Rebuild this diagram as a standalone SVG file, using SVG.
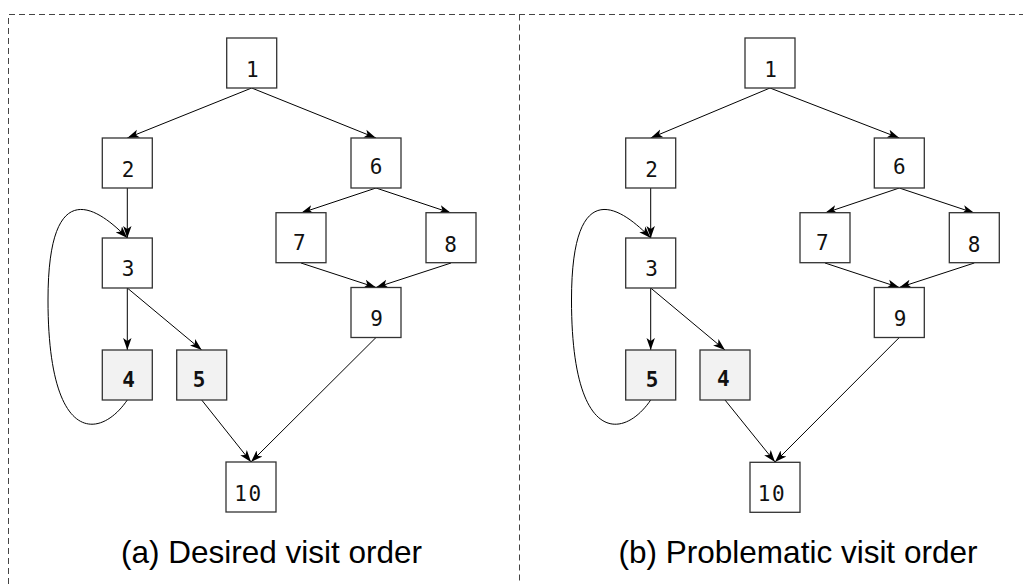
<svg xmlns="http://www.w3.org/2000/svg" width="1023" height="584" viewBox="0 0 1023 584">
  <style>
    .frame { fill: none; stroke: #444; stroke-width: 1; stroke-dasharray: 6 4; }
    .box { fill: #fff; stroke: #333; stroke-width: 1.3; }
    .box.hl { fill: #f2f2f2; }
    .lbl { font-family: "DejaVu Sans Mono", "Liberation Mono", monospace; font-size: 21px; fill: #111; text-anchor: middle; }
    .lbl.b { font-weight: bold; }
    .edge { fill: none; stroke: #000; stroke-width: 1; marker-end: url(#arrow); }
    .cap { font-family: "Liberation Sans", Arial, sans-serif; font-size: 31.5px; fill: #000; text-anchor: middle; }
  </style>
  <defs>
    <marker id="arrow" markerUnits="userSpaceOnUse" markerWidth="13" markerHeight="10" refX="12" refY="5" orient="auto">
      <path d="M0,0.8 L12,5 L0,9.2 L3,5 z" fill="#000"/>
    </marker>
  </defs>

  <rect width="1023" height="584" fill="#fff"/>

  <!-- panel frames -->
  <g id="frames">
    <path class="frame" d="M8.5,584 V14.5 H1023"/>
    <path class="frame" d="M519.5,14.5 V584"/>
  </g>

  <!-- connectors -->
  <g id="connectors">
    <!-- left panel -->
    <path class="edge" d="M251.7,88 L127.3,138"/>
    <path class="edge" d="M251.7,88 L376,138"/>
    <path class="edge" d="M127.3,188 L127.3,238"/>
    <path class="edge" d="M127.3,288 L127.3,350"/>
    <path class="edge" d="M127.3,288 L201.7,350"/>
    <path class="edge" d="M127.3,400 C100,440 48,445 48,300 C48,170 100,210 127.3,238"/>
    <path class="edge" d="M201.7,400 L251,462"/>
    <path class="edge" d="M376,188 L301,213"/>
    <path class="edge" d="M376,188 L451,213"/>
    <path class="edge" d="M301,263 L376,287.5"/>
    <path class="edge" d="M451,263 L376,287.5"/>
    <path class="edge" d="M376,337.5 L251,462"/>
    <!-- right panel -->
    <path class="edge" d="M770,88 L650.7,138"/>
    <path class="edge" d="M770,88 L899.3,138"/>
    <path class="edge" d="M650.7,188 L650.7,238"/>
    <path class="edge" d="M650.7,288 L650.7,350"/>
    <path class="edge" d="M650.7,288 L725,350"/>
    <path class="edge" d="M650.7,400 C623.5,440 571.5,445 571.5,300 C571.5,170 623.5,210 650.7,238"/>
    <path class="edge" d="M725,400 L775,462"/>
    <path class="edge" d="M899.3,188 L825,213"/>
    <path class="edge" d="M899.3,188 L974.3,213"/>
    <path class="edge" d="M825,263 L899.3,287.5"/>
    <path class="edge" d="M974.3,263 L899.3,287.5"/>
    <path class="edge" d="M899.3,337.5 L775,462"/>
  </g>

  <!-- left panel nodes -->
  <g id="a1"><rect class="box" x="226.7" y="38" width="50" height="50"/><text class="lbl" x="252.3" y="76.5">1</text></g>
  <g id="a2"><rect class="box" x="102.3" y="138" width="50" height="50"/><text class="lbl" x="128" y="176.5">2</text></g>
  <g id="a3"><rect class="box" x="102.3" y="238" width="50" height="50"/><text class="lbl" x="128" y="275.5">3</text></g>
  <g id="a4"><rect class="box hl" x="102.3" y="350" width="50" height="50"/><text class="lbl b" x="128.7" y="387">4</text></g>
  <g id="a5"><rect class="box hl" x="176.7" y="350" width="50" height="50"/><text class="lbl b" x="199" y="387">5</text></g>
  <g id="a6"><rect class="box" x="351" y="138" width="50" height="50"/><text class="lbl" x="376" y="174">6</text></g>
  <g id="a7"><rect class="box" x="276" y="212.7" width="50" height="50"/><text class="lbl" x="299.3" y="250">7</text></g>
  <g id="a8"><rect class="box" x="426" y="212.7" width="50" height="50"/><text class="lbl" x="450.7" y="252.3">8</text></g>
  <g id="a9"><rect class="box" x="351" y="287.5" width="50" height="50"/><text class="lbl" x="376.7" y="325.5">9</text></g>
  <g id="a10"><rect class="box" x="226" y="462" width="50" height="50"/><text class="lbl" x="248.5" y="500.5" letter-spacing="1.5">10</text></g>

  <!-- right panel nodes -->
  <g id="b1"><rect class="box" x="745" y="38" width="50" height="50"/><text class="lbl" x="770.5" y="76.5">1</text></g>
  <g id="b2"><rect class="box" x="625.7" y="138" width="50" height="50"/><text class="lbl" x="651.7" y="176.5">2</text></g>
  <g id="b3"><rect class="box" x="625.7" y="238" width="50" height="50"/><text class="lbl" x="651.7" y="275.5">3</text></g>
  <g id="b5"><rect class="box hl" x="625.7" y="350" width="50" height="50"/><text class="lbl b" x="652.2" y="387">5</text></g>
  <g id="b4"><rect class="box hl" x="700" y="350" width="50" height="50"/><text class="lbl b" x="723.3" y="386">4</text></g>
  <g id="b6"><rect class="box" x="874.3" y="138" width="50" height="50"/><text class="lbl" x="899.3" y="174">6</text></g>
  <g id="b7"><rect class="box" x="800" y="212.7" width="50" height="50"/><text class="lbl" x="822.3" y="250">7</text></g>
  <g id="b8"><rect class="box" x="949.3" y="212.7" width="50" height="50"/><text class="lbl" x="974" y="252.3">8</text></g>
  <g id="b9"><rect class="box" x="874.3" y="287.5" width="50" height="50"/><text class="lbl" x="900" y="325.5">9</text></g>
  <g id="b10"><rect class="box" x="750" y="462.3" width="50" height="50"/><text class="lbl" x="772" y="500.5" letter-spacing="1.5">10</text></g>

  <!-- captions -->
  <g id="captions">
    <text class="cap" x="271.5" y="563.3">(a) Desired visit order</text>
    <text class="cap" x="798" y="563.3">(b) Problematic visit order</text>
  </g>
</svg>
